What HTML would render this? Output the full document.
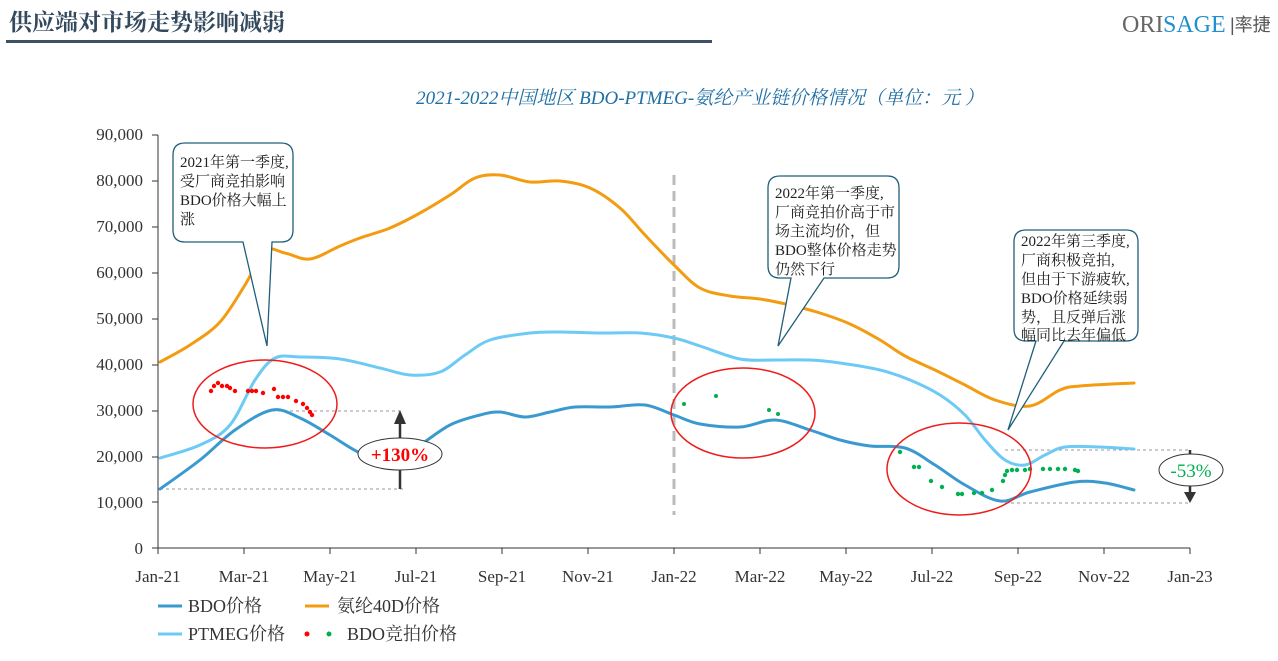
<!DOCTYPE html>
<html><head><meta charset="utf-8"><style>
body{margin:0;width:1278px;height:656px;background:#fff;overflow:hidden;font-family:"Liberation Serif","Noto Serif CJK SC",serif;}
</style></head><body>
<svg width="1278" height="656" xmlns="http://www.w3.org/2000/svg" font-family="Liberation Serif, Noto Serif CJK SC, serif">
<text x="9" y="30" font-size="23" font-weight="bold" fill="#34495e">供应端对市场走势影响减弱</text>
<rect x="6" y="40" width="706" height="3" fill="#3d5068"/>
<text x="1122" y="32" font-size="24" fill="#666">ORI</text>
<text x="1163" y="32" font-size="24" fill="#1f8fcf">SAGE</text>
<text x="1230" y="31" font-size="18" fill="#555" font-family="Liberation Sans, Noto Sans CJK SC, sans-serif">|率捷</text>
<text x="700" y="104" font-size="19" font-style="italic" fill="#1f6fa5" text-anchor="middle">2021-2022中国地区 BDO-PTMEG-氨纶产业链价格情况（单位：元 ）</text>
<g font-size="17" fill="#333" text-anchor="end">
<text x="143" y="554">0</text><text x="143" y="508">10,000</text><text x="143" y="462">20,000</text><text x="143" y="416">30,000</text><text x="143" y="370">40,000</text><text x="143" y="324">50,000</text><text x="143" y="278">60,000</text><text x="143" y="232">70,000</text><text x="143" y="186">80,000</text><text x="143" y="140">90,000</text>
</g>
<g stroke="#333" stroke-width="1">
<line x1="158" y1="135" x2="158" y2="548"/><line x1="158" y1="548" x2="1190" y2="548"/>
<line x1="152" y1="135" x2="158" y2="135"/><line x1="152" y1="181" x2="158" y2="181"/><line x1="152" y1="227" x2="158" y2="227"/><line x1="152" y1="273" x2="158" y2="273"/><line x1="152" y1="319" x2="158" y2="319"/><line x1="152" y1="365" x2="158" y2="365"/><line x1="152" y1="411" x2="158" y2="411"/><line x1="152" y1="457" x2="158" y2="457"/><line x1="152" y1="502" x2="158" y2="502"/><line x1="152" y1="548" x2="158" y2="548"/>
<line x1="158" y1="548" x2="158" y2="554"/><line x1="244" y1="548" x2="244" y2="554"/><line x1="330" y1="548" x2="330" y2="554"/><line x1="416" y1="548" x2="416" y2="554"/><line x1="502" y1="548" x2="502" y2="554"/><line x1="588" y1="548" x2="588" y2="554"/><line x1="674" y1="548" x2="674" y2="554"/><line x1="760" y1="548" x2="760" y2="554"/><line x1="846" y1="548" x2="846" y2="554"/><line x1="932" y1="548" x2="932" y2="554"/><line x1="1018" y1="548" x2="1018" y2="554"/><line x1="1104" y1="548" x2="1104" y2="554"/><line x1="1190" y1="548" x2="1190" y2="554"/>
</g>
<g font-size="17" fill="#333" text-anchor="middle">
<text x="158" y="582">Jan-21</text><text x="244" y="582">Mar-21</text><text x="330" y="582">May-21</text><text x="416" y="582">Jul-21</text><text x="502" y="582">Sep-21</text><text x="588" y="582">Nov-21</text><text x="674" y="582">Jan-22</text><text x="760" y="582">Mar-22</text><text x="846" y="582">May-22</text><text x="932" y="582">Jul-22</text><text x="1018" y="582">Sep-22</text><text x="1104" y="582">Nov-22</text><text x="1190" y="582">Jan-23</text>
</g>
<line x1="674" y1="175" x2="674" y2="515" stroke="#bbb" stroke-width="3" stroke-dasharray="10,6"/>
<g stroke="#999" stroke-width="1" stroke-dasharray="3,3">
<line x1="272" y1="411" x2="400" y2="411"/><line x1="160" y1="489" x2="403" y2="489"/>
<line x1="1005" y1="450" x2="1190" y2="450"/><line x1="1005" y1="503" x2="1190" y2="503"/>
</g>
<g fill="none" stroke-linejoin="round" stroke-linecap="round">
<path id="o" stroke="#f39c12" stroke-width="3" data-p="160,362 190,345 220,322 245,285 265,251 285,253 310,259 340,246 360,238 390,228 420,213 450,195 475,178 500,175 530,182 560,181 590,188 620,208 645,235 674,265 700,288 730,296 760,299 790,305 820,313 850,324 880,340 905,356 935,370 965,385 995,400 1030,406 1060,390 1080,386 1134,383"/>
<path id="p" stroke="#6dcaf5" stroke-width="3" data-p="160,458 200,445 230,425 255,380 275,358 300,357 340,359 380,368 410,375 440,372 465,355 490,340 530,333 560,332 600,333 640,333 674,338 700,346 740,359 775,360 810,360 840,363 880,370 910,380 940,395 965,415 985,440 1005,460 1025,465 1045,455 1065,447 1100,447 1134,449"/>
<path id="b" stroke="#3a9ad0" stroke-width="3" data-p="160,489 200,460 235,430 272,410 300,418 330,435 360,453 390,462 420,445 450,425 480,415 500,412 525,417 550,412 575,407 610,407 645,405 674,415 700,424 740,427 775,420 810,430 840,440 870,446 905,448 935,465 965,485 1000,501 1030,492 1075,482 1105,483 1134,490"/>
</g>
<g fill="#ff0000">
<circle cx="211" cy="391" r="2.2"/><circle cx="214" cy="386" r="2.2"/><circle cx="218" cy="383" r="2.2"/><circle cx="222" cy="386" r="2.2"/><circle cx="227" cy="386" r="2.2"/><circle cx="230" cy="388" r="2.2"/><circle cx="235" cy="391" r="2.2"/><circle cx="248" cy="391" r="2.2"/><circle cx="252" cy="391" r="2.2"/><circle cx="256" cy="391" r="2.2"/><circle cx="263" cy="393" r="2.2"/><circle cx="274" cy="389" r="2.2"/><circle cx="278" cy="397" r="2.2"/><circle cx="283" cy="397" r="2.2"/><circle cx="288" cy="397" r="2.2"/><circle cx="296" cy="401" r="2.2"/><circle cx="303" cy="404" r="2.2"/><circle cx="307" cy="408" r="2.2"/><circle cx="310" cy="412" r="2.2"/><circle cx="312" cy="415" r="2.2"/>
</g>
<g fill="#00b050">
<circle cx="684" cy="404" r="2"/><circle cx="716" cy="396" r="2"/><circle cx="769" cy="410" r="2"/><circle cx="778" cy="414" r="2"/>
<circle cx="900" cy="452" r="2.2"/><circle cx="914" cy="467" r="2.2"/><circle cx="919" cy="467" r="2.2"/><circle cx="931" cy="481" r="2.2"/><circle cx="942" cy="487" r="2.2"/><circle cx="958" cy="494" r="2.2"/><circle cx="962" cy="494" r="2.2"/><circle cx="974" cy="493" r="2.2"/><circle cx="982" cy="493" r="2.2"/><circle cx="992" cy="490" r="2.2"/><circle cx="1003" cy="481" r="2.2"/><circle cx="1005" cy="475" r="2.2"/><circle cx="1007" cy="471" r="2.2"/><circle cx="1012" cy="470" r="2.2"/><circle cx="1017" cy="470" r="2.2"/><circle cx="1025" cy="470" r="2.2"/><circle cx="1030" cy="469" r="2.2"/><circle cx="1043" cy="469" r="2.2"/><circle cx="1050" cy="469" r="2.2"/><circle cx="1058" cy="469" r="2.2"/><circle cx="1065" cy="469" r="2.2"/><circle cx="1075" cy="470" r="2.2"/><circle cx="1078" cy="471" r="2.2"/>
</g>
<g fill="none" stroke="#ee1c1c" stroke-width="1.5">
<ellipse cx="265" cy="404" rx="72" ry="44"/><ellipse cx="743" cy="413" rx="72" ry="45"/><ellipse cx="959" cy="469" rx="72" ry="46"/>
</g>
<line x1="400" y1="489" x2="400" y2="420" stroke="#333" stroke-width="2.5"/><polygon points="394,424 406,424 400,410" fill="#333"/>
<ellipse cx="400" cy="454" rx="42" ry="16" fill="#fff" stroke="#333"/>
<text x="400" y="461" font-size="19" font-weight="bold" fill="#ff0000" text-anchor="middle">+130%</text>
<line x1="1190" y1="450" x2="1190" y2="495" stroke="#333" stroke-width="2.5"/><polygon points="1184,492 1196,492 1190,503" fill="#333"/>
<ellipse cx="1191" cy="470" rx="32" ry="16" fill="#fff" stroke="#333"/>
<text x="1191" y="477" font-size="19" fill="#00b050" text-anchor="middle">-53%</text>
<g fill="#fff" stroke="#1f5f7a" stroke-width="1.3">
<path d="M187,143 H281 Q293,143 293,155 V230 Q293,242 281,242 H272 L267,346 L243,242 H185 Q173,242 173,230 V155 Q173,143 185,143 Z"/>
<path d="M782,176 H887 Q899,176 899,188 V266 Q899,278 887,278 H824 L778,346 L791,278 H780 Q768,278 768,266 V188 Q768,176 780,176 Z"/>
<path d="M1028,230 H1126 Q1138,230 1138,242 V329 Q1138,341 1126,341 H1064 L1008,430 L1036,341 H1026 Q1014,341 1014,329 V242 Q1014,230 1026,230 Z"/>
</g>
<g font-size="15" fill="#222">
<text x="180" y="167">2021年第一季度,</text><text x="180" y="186">受厂商竞拍影响</text><text x="180" y="205">BDO价格大幅上</text><text x="180" y="224">涨</text>
<text x="775" y="198">2022年第一季度,</text><text x="775" y="217">厂商竞拍价高于市</text><text x="775" y="236">场主流均价，但</text><text x="775" y="255">BDO整体价格走势</text><text x="775" y="274">仍然下行</text>
<text x="1021" y="246">2022年第三季度,</text><text x="1021" y="265">厂商积极竞拍,</text><text x="1021" y="284">但由于下游疲软,</text><text x="1021" y="303">BDO价格延续弱</text><text x="1021" y="322">势，且反弹后涨</text><text x="1021" y="340">幅同比去年偏低</text>
</g>
<g font-size="18" fill="#333">
<line x1="158" y1="606" x2="182" y2="606" stroke="#3a9ad0" stroke-width="3"/><text x="188" y="612">BDO价格</text>
<line x1="305" y1="606" x2="329" y2="606" stroke="#f39c12" stroke-width="3"/><text x="337" y="612">氨纶40D价格</text>
<line x1="158" y1="634" x2="182" y2="634" stroke="#6dcaf5" stroke-width="3"/><text x="188" y="640">PTMEG价格</text>
<circle cx="307" cy="634" r="2.5" fill="#ff0000"/><circle cx="329" cy="634" r="2.5" fill="#00b050"/><text x="347" y="640">BDO竞拍价格</text>
</g>
</svg>
<script>
['o','p','b'].forEach(function(id){
var el=document.getElementById(id);
var pts=el.getAttribute('data-p').split(' ').map(function(s){return s.split(',').map(Number);});
var d='M'+pts[0][0]+','+pts[0][1];
for(var i=0;i<pts.length-1;i++){
var p0=pts[i-1]||pts[i],p1=pts[i],p2=pts[i+1],p3=pts[i+2]||p2;
var c1x=p1[0]+(p2[0]-p0[0])/6,c1y=p1[1]+(p2[1]-p0[1])/6;
var c2x=p2[0]-(p3[0]-p1[0])/6,c2y=p2[1]-(p3[1]-p1[1])/6;
d+=' C'+c1x+','+c1y+' '+c2x+','+c2y+' '+p2[0]+','+p2[1];
}
el.setAttribute('d',d);
});
</script>
</body></html>
